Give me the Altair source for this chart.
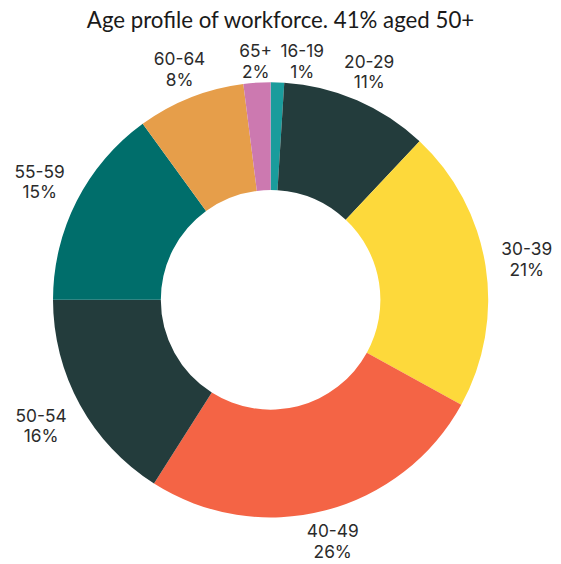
import math
import altair as alt
import pandas as pd

# ---- data ----
ages = ["16-19", "20-29", "30-39", "40-49", "50-54", "55-59", "60-64", "65+"]
pcts = [1, 11, 21, 26, 16, 15, 8, 2]
colors = ["#1a9c9c", "#233c3c", "#fdd93b", "#f46445", "#233c3c", "#006e6b", "#e69e4a", "#cc79b0"]
title_text = "Age profile of workforce. 41% aged 50+"

# layout: small angular nudge (in % of circle) to avoid overlapping labels
label_nudge = {"16-19": 1.6}

df = pd.DataFrame({"age": ages, "pct": pcts, "order": list(range(len(ages)))})

theta_scale = alt.Scale(domain=[0, 100], range=[0, 2 * math.pi])

base = alt.Chart(df).transform_window(
    end="sum(pct)", sort=[alt.SortField("order")]
).transform_calculate(
    start="datum.end - datum.pct",
    mid="datum.end - datum.pct / 2",
)

arcs = base.mark_arc(outerRadius=220, innerRadius=111).encode(
    theta=alt.Theta("start:Q", scale=theta_scale, stack=None),
    theta2="end:Q",
    color=alt.Color("age:N", scale=alt.Scale(domain=ages, range=colors), legend=None),
)

nudge_expr = "0"
for k, v in label_nudge.items():
    nudge_expr = f"(datum.age == '{k}' ? {v} : {nudge_expr})"

labels = base.transform_calculate(
    lmid=f"datum.mid + {nudge_expr}",
).transform_calculate(
    ang="datum.lmid / 100 * 2 * PI",
).transform_calculate(
    lr="229 + 32 * abs(sin(datum.ang)) + (cos(datum.ang) > 0 ? 10 : 16) * abs(cos(datum.ang))",
    label="datum.age + '\\n' + datum.pct + '%'",
).mark_text(
    font="Inter", fontSize=17.5, lineHeight=21, color="#2b2b2b",
    align="center", baseline="middle", lineBreak="\n", dy=-9.5,
).encode(
    theta=alt.Theta("lmid:Q", scale=theta_scale, stack=None),
    radius=alt.Radius("lr:Q", scale=None),
    text="label:N",
)

chart = alt.layer(arcs, labels).properties(
    width=531,
    height=480,
    autosize=alt.AutoSizeParams(type="none"),
    padding={"left": 0, "top": 52, "right": 20, "bottom": 22},
    title=alt.TitleParams(
        title_text, font="Lato", fontSize=22.5, fontWeight="normal", color="#1a1a1a",
        anchor="middle", frame="group", baseline="alphabetic", offset=-7, dx=10,
    ),
).configure_view(stroke=None)

chart.save("out.html", embed_options={"renderer": "svg", "actions": False})
